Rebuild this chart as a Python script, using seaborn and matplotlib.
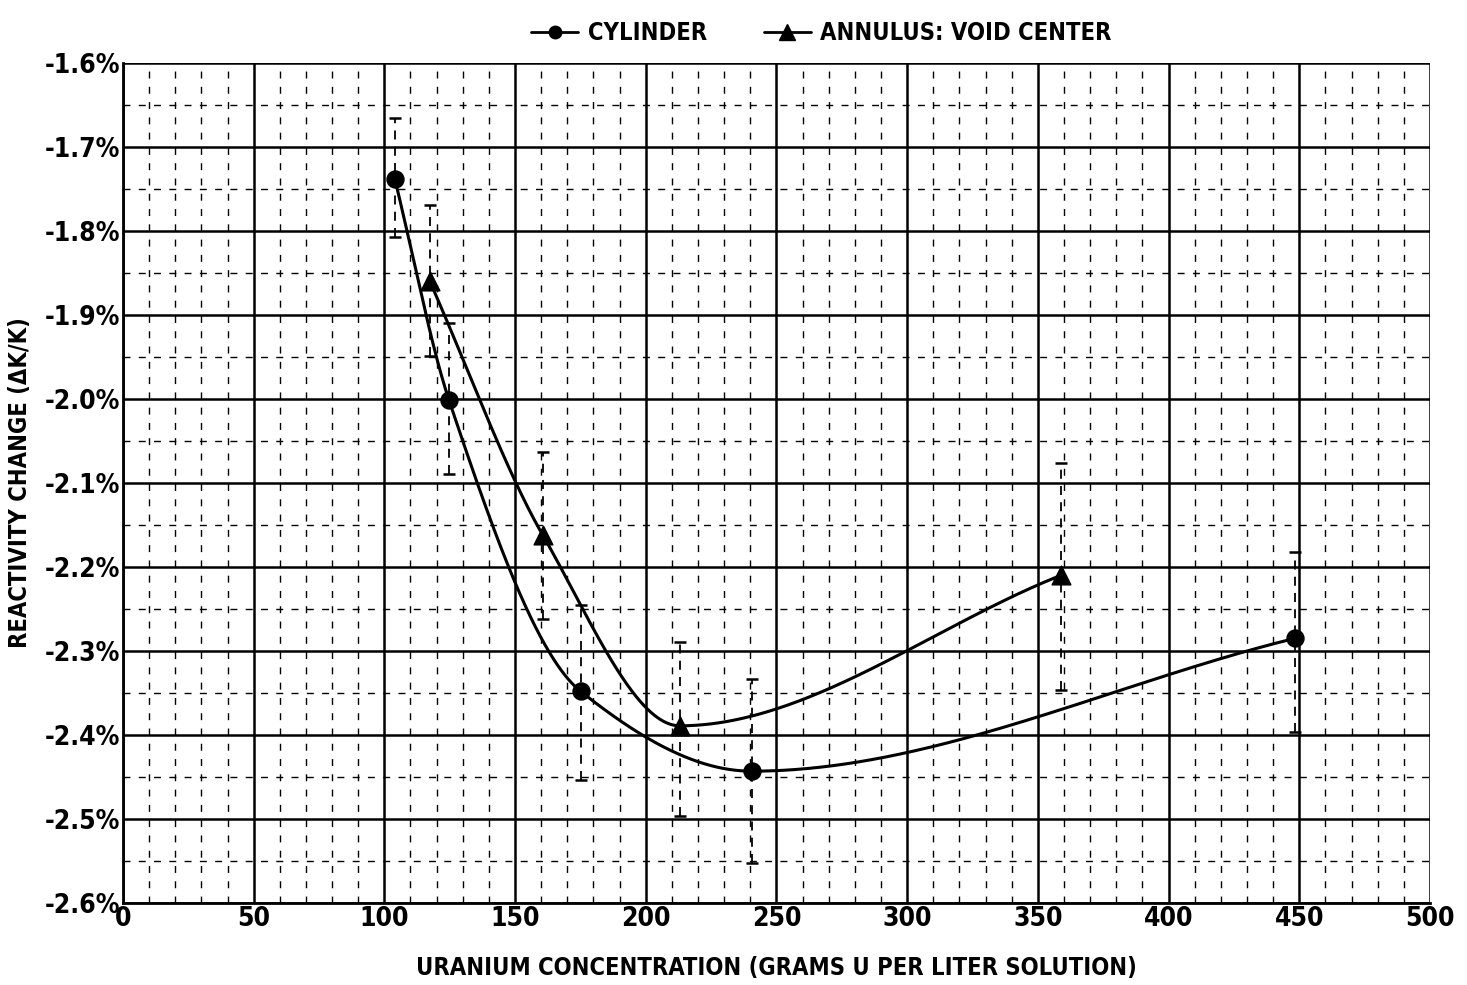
import numpy as np
import matplotlib
matplotlib.use("Agg")
import matplotlib.pyplot as plt
from matplotlib.lines import Line2D
from matplotlib.ticker import MultipleLocator, FuncFormatter
import seaborn as sns

# Data (x in g U / liter, y in % dK/K)
cyl_x = [104.0, 124.7, 175.1, 240.5, 448.2]
cyl_y = [-1.738, -2.001, -2.348, -2.443, -2.285]
cyl_lo = [-1.807, -2.089, -2.454, -2.552, -2.396]
cyl_hi = [-1.665, -1.910, -2.245, -2.333, -2.182]

ann_x = [117.4, 160.6, 213.0, 358.7]
ann_y = [-1.860, -2.162, -2.389, -2.210]
ann_lo = [-1.949, -2.262, -2.496, -2.346]
ann_hi = [-1.769, -2.063, -2.289, -2.076]

x_ticks = [0, 50, 100, 150, 200, 250, 300, 350, 400, 450, 500]
y_ticks = [-2.6, -2.5, -2.4, -2.3, -2.2, -2.1, -2.0, -1.9, -1.8, -1.7, -1.6]


def smooth(x, y, n=300):
    # monotone cubic hermite through the points, just for drawing the curve
    x = np.asarray(x, float)
    y = np.asarray(y, float)
    h = np.diff(x)
    d = np.diff(y) / h
    m = np.zeros_like(x)
    m[0], m[-1] = d[0], d[-1]
    for k in range(1, len(x) - 1):
        if d[k - 1] * d[k] > 0:
            w1 = 2 * h[k] + h[k - 1]
            w2 = h[k] + 2 * h[k - 1]
            m[k] = (w1 + w2) / (w1 / d[k - 1] + w2 / d[k])
    xs, ys = [], []
    for k in range(len(h)):
        t = np.linspace(0, 1, n)
        h00 = 2 * t**3 - 3 * t**2 + 1
        h10 = t**3 - 2 * t**2 + t
        h01 = -2 * t**3 + 3 * t**2
        h11 = t**3 - t**2
        xs.append(x[k] + t * h[k])
        ys.append(h00 * y[k] + h10 * h[k] * m[k] + h01 * y[k + 1] + h11 * h[k] * m[k + 1])
    return np.concatenate(xs), np.concatenate(ys)


sns.set_style("white")
plt.rcParams["font.family"] = ["DejaVu Sans"]
plt.rcParams["font.stretch"] = "condensed"
plt.rcParams["font.weight"] = "bold"
plt.rcParams["text.color"] = "black"

fig = plt.figure(figsize=(14.67, 9.85), dpi=100)
ax = fig.add_axes([0.0838, 0.0832, 0.8910, 0.8528])

ax.set_xlim(0, 500)
ax.set_ylim(-2.6, -1.6)

# grid: solid major, dashed minor
ax.xaxis.set_major_locator(MultipleLocator(50))
ax.xaxis.set_minor_locator(MultipleLocator(10))
ax.yaxis.set_major_locator(MultipleLocator(0.1))
ax.yaxis.set_minor_locator(MultipleLocator(0.05))
ax.grid(which="major", color="black", lw=1.8, ls="-", zorder=0)
ax.grid(which="minor", color="black", lw=1.0, ls=(0, (5, 6)), zorder=0)
ax.set_axisbelow(True)
ax.set_xticks(x_ticks)
ax.set_yticks(y_ticks)
ax.yaxis.set_major_formatter(FuncFormatter(lambda v, p: f"{v:.1f}%"))
ax.tick_params(which="both", length=0, labelsize=19, pad=2, labelcolor="black")

for s in ["top", "right"]:
    ax.spines[s].set_visible(False)
for s in ["left", "bottom"]:
    ax.spines[s].set_color("black")
    ax.spines[s].set_linewidth(2)

# error bars
for xs_, ys_, lo, hi in [(cyl_x, cyl_y, cyl_lo, cyl_hi), (ann_x, ann_y, ann_lo, ann_hi)]:
    yerr = [np.array(ys_) - np.array(lo), np.array(hi) - np.array(ys_)]
    eb = ax.errorbar(xs_, ys_, yerr=yerr, fmt="none", ecolor="black", elinewidth=1.3,
                     capsize=4, capthick=1.8, zorder=2)
    eb[2][0].set_linestyle((0, (5, 4)))

# smooth curves
cx, cy = smooth(cyl_x, cyl_y)
axx, ayy = smooth(ann_x, ann_y)
ax.plot(cx, cy, color="black", lw=2.2, zorder=3)
ax.plot(axx, ayy, color="black", lw=2.2, zorder=3)

# markers
sns.scatterplot(x=cyl_x, y=cyl_y, ax=ax, marker="o", s=150, color="black",
                edgecolor="black", zorder=4)
sns.scatterplot(x=ann_x, y=ann_y, ax=ax, marker="^", s=180, color="black",
                edgecolor="black", zorder=4)

ax.set_xlabel("URANIUM CONCENTRATION (GRAMS U PER LITER SOLUTION)", fontsize=17,
              fontweight="bold", color="black")
ax.set_ylabel("REACTIVITY CHANGE (\u0394K/K)", fontsize=17, fontweight="bold", color="black")
ax.xaxis.set_label_coords(0.5, -0.077)
ax.xaxis.label.set_va("center")
ax.yaxis.set_label_coords(-0.079, 0.5)
ax.yaxis.label.set_va("center")

handles = [
    Line2D([], [], color="black", lw=2, marker="o", markersize=9),
    Line2D([], [], color="black", lw=2, marker="^", markersize=11),
]
fig.legend(handles, ["CYLINDER", "ANNULUS: VOID CENTER"], loc="upper center",
           bbox_to_anchor=(0.56, 1.0), ncol=2, frameon=False, fontsize=17,
           handlelength=2.0, handletextpad=0.4, columnspacing=2.4, labelcolor="black")

fig.savefig("out.png", dpi=100)
